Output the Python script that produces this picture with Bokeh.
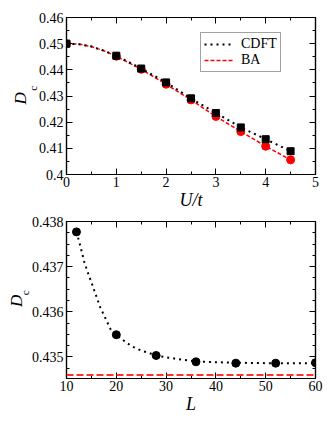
import math
from bokeh.plotting import figure
from bokeh.layouts import column
from bokeh.models import (Range1d, LinearAxis, SingleIntervalTicker, CustomJSTickFormatter,
                          Legend, LegendItem, Label, Span)
from bokeh.embed import file_html
from bokeh.resources import INLINE

# ---- top panel: D_c vs U/t ----
U_pts = [0, 1, 1.5, 2, 2.5, 3, 3.5, 4, 4.5]
D_cdft = [0.4500, 0.4454, 0.4405, 0.4352, 0.4291, 0.4235, 0.4180, 0.4135, 0.4089]
D_ba = [0.4500, 0.4452, 0.4402, 0.4345, 0.4285, 0.4222, 0.4164, 0.4108, 0.4056]
U_curve = [0, 0.25, 0.5, 0.75, 1, 1.5, 2, 2.5, 3, 3.5, 4, 4.5]
D_cdft_curve = [0.4500, 0.4498, 0.4489, 0.4473, 0.4454, 0.4405, 0.4352, 0.4291, 0.4235, 0.4180, 0.4135, 0.4089]
D_ba_curve = [0.4500, 0.4498, 0.4489, 0.4473, 0.4452, 0.4402, 0.4345, 0.4285, 0.4222, 0.4164, 0.4108, 0.4056]

# ---- bottom panel: D_c vs L ----
L_pts = [12, 20, 28, 36, 44, 52, 60]
D_L = [0.43777, 0.43549, 0.43503, 0.43489, 0.43486, 0.43486, 0.43487]
L_fit = [12, 12.75, 13.6, 14.4, 15.2, 16, 16.8, 17.8, 18.8, 20, 21.5, 23, 25, 27, 28, 30, 33, 36, 40, 44, 50, 60]
D_fit = [0.43777, 0.43747, 0.43709, 0.43683, 0.43659, 0.43634, 0.43609, 0.43586, 0.43562, 0.43549,
         0.43536, 0.43524, 0.43514, 0.43507, 0.43503, 0.43499, 0.43494, 0.43490, 0.43488, 0.43487,
         0.43486, 0.43486]
D_ba_limit = 0.43460

SERIF = "Liberation Serif"
FMT = CustomJSTickFormatter(code="return Number(tick.toFixed(4)).toString();")
BLANK = CustomJSTickFormatter(code="return '';")
FW, FH = 249, 157


def make_fig(xr, yr, xint, xminor, yint, yminor, top_border, bottom_border, xlabel):
    p = figure(output_backend="svg", toolbar_location=None,
               frame_width=FW, frame_height=FH,
               min_border_left=66, min_border_right=9, min_border_top=top_border,
               min_border_bottom=bottom_border,
               x_range=Range1d(*xr), y_range=Range1d(*yr))
    p.grid.visible = False
    p.outline_line_color = "black"
    p.outline_line_width = 1.2
    p.background_fill_color = "white"
    p.border_fill_color = "white"
    p.add_layout(LinearAxis(), "above")
    p.add_layout(LinearAxis(), "right")
    for ax in p.xaxis:
        ax.ticker = SingleIntervalTicker(interval=xint, num_minor_ticks=xminor)
    for ax in p.yaxis:
        ax.ticker = SingleIntervalTicker(interval=yint, num_minor_ticks=yminor)
    for ax in list(p.xaxis) + list(p.yaxis):
        ax.axis_line_color = "black"
        ax.axis_line_width = 1.2
        ax.major_tick_in = 6
        ax.major_tick_out = 0
        ax.minor_tick_in = 3
        ax.minor_tick_out = 0
        ax.major_tick_line_color = "black"
        ax.minor_tick_line_color = "black"
        ax.major_label_text_font = SERIF
        ax.major_label_text_font_size = "14px"
        ax.major_label_text_color = "black"
    xb = p.below[0]
    xb.formatter = FMT
    xb.major_label_standoff = 2
    xb.axis_label = xlabel
    xb.axis_label_text_font = SERIF
    xb.axis_label_text_font_style = "italic"
    xb.axis_label_text_font_size = "18px"
    xb.axis_label_text_color = "black"
    xb.axis_label_standoff = 0
    p.left[0].formatter = FMT
    p.left[0].major_label_standoff = 3
    for ax in (p.above[0], p.right[0]):
        ax.formatter = BLANK
        ax.major_label_text_font_size = "0px"
        ax.major_label_standoff = 0
    return p


def to_data(xr, yr, dx, dy):
    """offset in px from the frame's top-left corner -> data coordinates"""
    return (xr[0] + dx / FW * (xr[1] - xr[0]), yr[1] - dy / FH * (yr[1] - yr[0]))


def add_ylabel(p, xr, yr, d_off, c_off):
    dx, dy = to_data(xr, yr, *d_off)
    cx, cy = to_data(xr, yr, *c_off)
    # placed in side panels so they are not clipped to the frame
    p.add_layout(Label(x=dx, y=dy, text="D",
                       angle=math.pi / 2, text_align="center", text_baseline="middle",
                       text_font=SERIF, text_font_style="italic", text_font_size="17px",
                       text_color="black"), "left")
    p.add_layout(Label(x=cx, y=cy, text="c",
                       angle=math.pi / 2, text_align="center", text_baseline="middle",
                       text_font=SERIF, text_font_size="11px", text_color="black"), "above")


# top figure
XR1, YR1 = (0, 5), (0.40, 0.46)
p1 = make_fig(XR1, YR1, 1, 2, 0.01, 2, 17, 33, "U/t")
r_ba = p1.line(U_curve, D_ba_curve, line_color="red", line_width=1.5, line_dash="4 2")
r_cdft = p1.line(U_curve, D_cdft_curve, line_color="black", line_width=2, line_dash="2 4")
p1.scatter(U_pts, D_ba, marker="circle", size=8, fill_color="red", line_color="red")
p1.scatter(U_pts, D_cdft, marker="square", size=7, fill_color="black", line_color="black")
legend = Legend(items=[LegendItem(label="CDFT", renderers=[r_cdft]),
                       LegendItem(label="BA", renderers=[r_ba])],
                location=(134, 101.7), orientation="vertical",
                border_line_color="#444444", border_line_width=1,
                background_fill_color="white", background_fill_alpha=1,
                padding=3, spacing=-4, margin=0, glyph_width=29, glyph_height=12,
                label_standoff=8, label_height=12,
                label_text_font=SERIF, label_text_font_size="14px", label_text_color="black")
p1.add_layout(legend)
add_ylabel(p1, XR1, YR1, (20.3 - 66.3, 97.5 - 16.7), (33 - 66.3, 87.5 - 16.7))

# bottom figure
XR2, YR2 = (10, 60), (0.43452, 0.438)
p2 = make_fig(XR2, YR2, 10, 2, 0.001, 4, 9, 40, "L")
p2.add_layout(Span(location=D_ba_limit, dimension="width", line_color="#ff3030",
                   line_width=2, line_dash="7 3"))
p2.line(L_fit, D_fit, line_color="black", line_width=2, line_dash="2 4")
p2.scatter(L_pts, D_L, marker="circle", size=8, fill_color="black", line_color="black")
add_ylabel(p2, XR2, YR2, (16 - 66.3, 295 - 215.7), (25 - 66.3, 287 - 215.7))

layout = column(p1, p2, spacing=0)
open("out.html", "w").write(file_html(layout, INLINE))
